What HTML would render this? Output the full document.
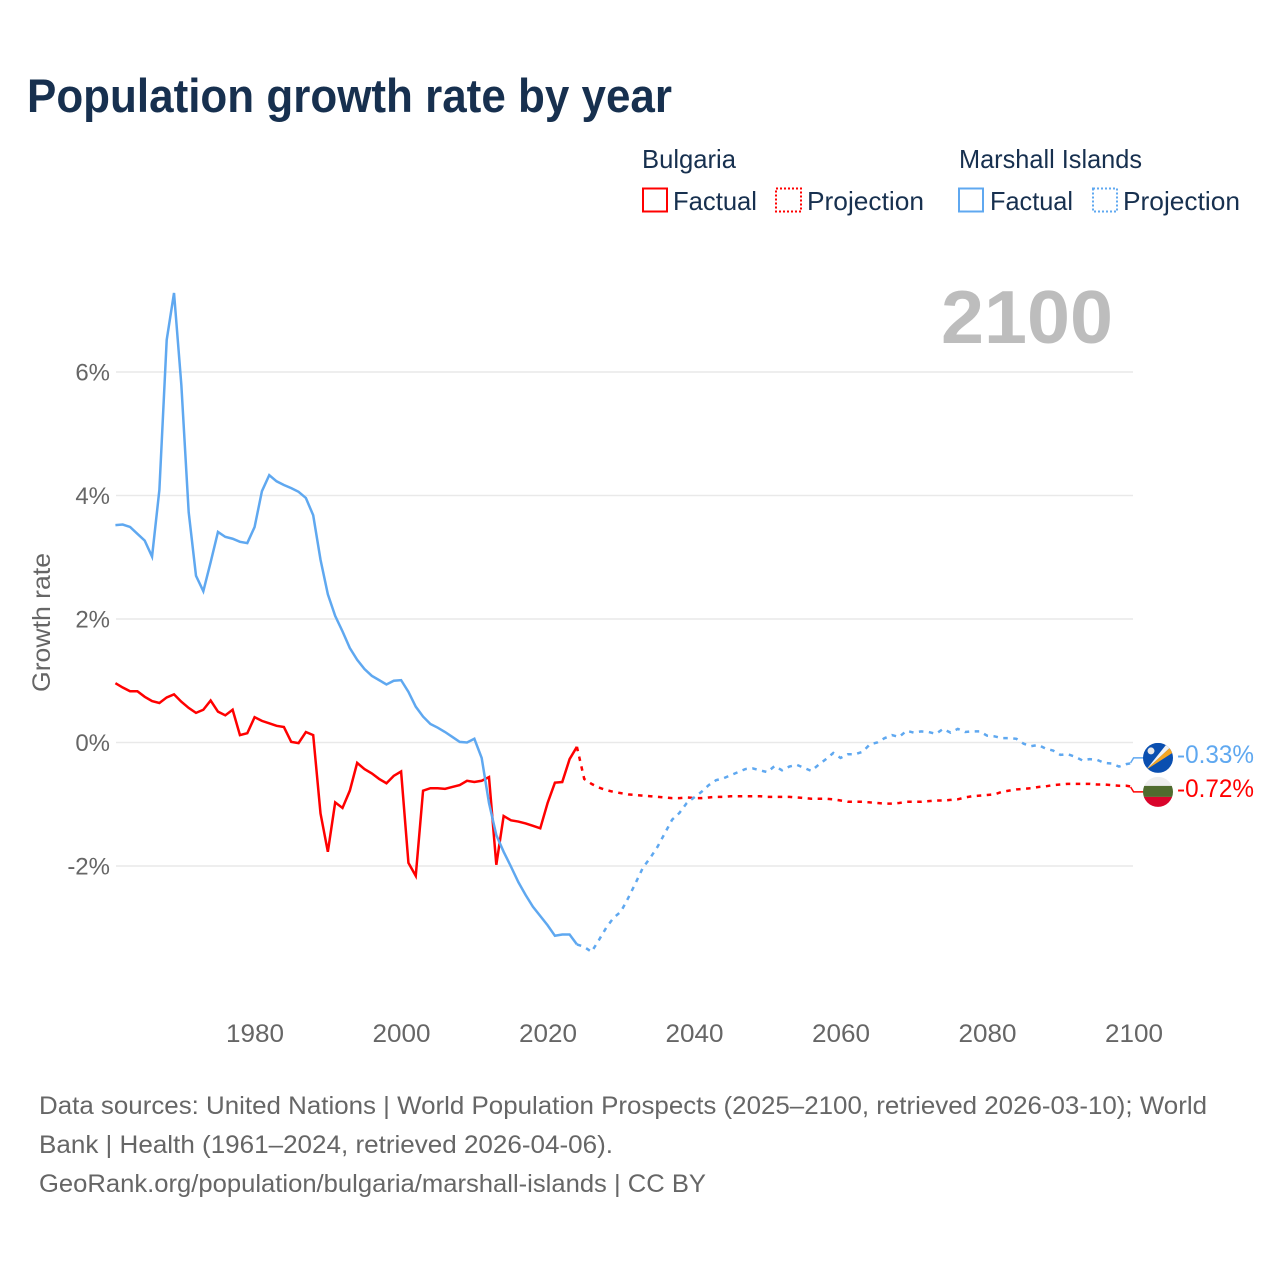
<!DOCTYPE html>
<html lang="en">
<head>
<meta charset="utf-8">
<title>Population growth rate by year</title>
<style>
html,body{margin:0;padding:0;background:#fff;width:1280px;height:1280px;overflow:hidden}
svg{display:block;font-family:"Liberation Sans",sans-serif}
</style>
</head>
<body>
<svg id="chart" xmlns="http://www.w3.org/2000/svg" width="1280" height="1280" viewBox="0 0 1280 1280">
  <defs>
    <clipPath id="flag-mh-clip"><circle id="flag-mh-circle" cx="1158" cy="758" r="15"/></clipPath>
    <clipPath id="flag-bg-clip"><circle id="flag-bg-circle" cx="1158" cy="792" r="15"/></clipPath>
  </defs>
  <rect width="1280" height="1280" fill="#fff"/>
  <text x="27" y="112" font-size="47" font-weight="700" fill="#17304f" textLength="645" lengthAdjust="spacingAndGlyphs">Population growth rate by year</text>

  <g font-size="26" fill="#17304f">
    <text x="642" y="168" textLength="94" lengthAdjust="spacingAndGlyphs">Bulgaria</text>
    <text x="959" y="168" textLength="183" lengthAdjust="spacingAndGlyphs">Marshall Islands</text>
    <rect x="643" y="188.500" width="24" height="23" fill="none" stroke="#ff0000" stroke-width="2"/>
    <text x="673" y="210" textLength="84" lengthAdjust="spacingAndGlyphs">Factual</text>
    <rect x="776" y="188.500" width="25" height="23" fill="none" stroke="#ff0000" stroke-width="2" stroke-dasharray="2 2"/>
    <text x="807" y="210" textLength="117" lengthAdjust="spacingAndGlyphs">Projection</text>
    <rect x="959" y="188.500" width="24" height="23" fill="none" stroke="#5fa8f0" stroke-width="2"/>
    <text x="990" y="210" textLength="83" lengthAdjust="spacingAndGlyphs">Factual</text>
    <rect x="1093" y="188.500" width="24" height="23" fill="none" stroke="#5fa8f0" stroke-width="2" stroke-dasharray="2 2"/>
    <text x="1123" y="210" textLength="117" lengthAdjust="spacingAndGlyphs">Projection</text>
  </g>

  <text x="941" y="343" font-size="75" font-weight="700" fill="#bdbdbd" textLength="172" lengthAdjust="spacingAndGlyphs">2100</text>
  <text transform="translate(50,622.500) rotate(-90)" text-anchor="middle" font-size="25" fill="#666666" textLength="139" lengthAdjust="spacingAndGlyphs">Growth rate</text>

  <g id="grid"></g>
  <g id="y-ticks" font-size="24" fill="#666666" text-anchor="end"></g>
  <g id="x-ticks" font-size="25" fill="#666666" text-anchor="middle"></g>
  <g id="series"></g>

  <g id="flag-mh" clip-path="url(#flag-mh-clip)">
    <rect id="flag-mh-bg" x="1143" y="743" width="30" height="30" fill="#0a4fb0"/>
    <polygon id="flag-mh-white" points="1146,770 1170,740 1173,745" fill="#f2f2f2"/>
    <polygon id="flag-mh-orange" points="1146,770 1173,745 1174,752" fill="#f5a623"/>
    <circle id="flag-mh-star" cx="1151" cy="751" r="3.500" fill="#e8e8e8"/>
  </g>
  <g id="flag-bg" clip-path="url(#flag-bg-clip)">
    <rect id="flag-bg-w" x="1143" y="776" width="30" height="11" fill="#eeeeee"/>
    <rect id="flag-bg-g" x="1143" y="786" width="30" height="11" fill="#4f6b2e"/>
    <rect id="flag-bg-r" x="1143" y="797" width="30" height="11" fill="#d9042b"/>
  </g>
  <text id="label-mh" x="1177" y="763" font-size="25" fill="#5fa8f0" textLength="77" lengthAdjust="spacingAndGlyphs"></text>
  <text id="label-bg" x="1177" y="797" font-size="25" fill="#ff0000" textLength="77" lengthAdjust="spacingAndGlyphs"></text>

  <g font-size="25" fill="#666666">
    <text x="39" y="1114" textLength="1168" lengthAdjust="spacingAndGlyphs">Data sources: United Nations | World Population Prospects (2025–2100, retrieved 2026-03-10); World</text>
    <text x="39" y="1153" textLength="574" lengthAdjust="spacingAndGlyphs">Bank | Health (1961–2024, retrieved 2026-04-06).</text>
    <text x="39" y="1192" textLength="667" lengthAdjust="spacingAndGlyphs">GeoRank.org/population/bulgaria/marshall-islands | CC BY</text>
  </g>
</svg>
<script>
const xTickYears = [1980, 2000, 2020, 2040, 2060, 2080, 2100];
const yTickValues = [6, 4, 2, 0, -2];
const factualStartYear = 1961;
const projectionStartYear = 2024;

// Marshall Islands, 1961-2024
const marshallFactual = [3.52,3.53,3.49,3.38,3.27,3.01,4.09,6.52,7.28,5.79,3.73,2.70,2.45,2.92,3.41,3.33,3.30,3.25,3.23,3.49,4.07,4.33,4.23,4.17,4.12,4.06,3.96,3.68,2.96,2.40,2.05,1.80,1.53,1.34,1.19,1.08,1.01,0.94,1.00,1.01,0.82,0.58,0.42,0.30,0.24,0.17,0.09,0.01,0.00,0.06,-0.25,-0.98,-1.50,-1.77,-2.01,-2.26,-2.47,-2.66,-2.81,-2.96,-3.13,-3.11,-3.11,-3.27];
// Marshall Islands, 2024-2100
const marshallProjection = [-3.27,-3.31,-3.39,-3.20,-3.00,-2.84,-2.74,-2.52,-2.28,-2.03,-1.87,-1.69,-1.47,-1.25,-1.14,-0.98,-0.89,-0.80,-0.69,-0.61,-0.58,-0.53,-0.48,-0.43,-0.42,-0.45,-0.48,-0.38,-0.45,-0.39,-0.36,-0.41,-0.46,-0.36,-0.27,-0.17,-0.25,-0.19,-0.19,-0.15,-0.03,0.00,0.07,0.12,0.09,0.19,0.16,0.18,0.17,0.14,0.22,0.16,0.22,0.17,0.18,0.18,0.11,0.10,0.07,0.07,0.06,-0.02,-0.06,-0.04,-0.10,-0.13,-0.20,-0.19,-0.23,-0.29,-0.27,-0.28,-0.33,-0.34,-0.39,-0.35,-0.33];
// Bulgaria, 1961-2024
const bulgariaFactual = [0.96,0.89,0.83,0.83,0.74,0.67,0.64,0.73,0.78,0.66,0.56,0.48,0.53,0.68,0.50,0.44,0.53,0.12,0.15,0.41,0.35,0.31,0.27,0.25,0.01,-0.01,0.17,0.12,-1.15,-1.77,-0.97,-1.06,-0.78,-0.33,-0.43,-0.50,-0.59,-0.66,-0.54,-0.47,-1.95,-2.16,-0.78,-0.74,-0.74,-0.75,-0.72,-0.69,-0.62,-0.64,-0.62,-0.56,-1.98,-1.19,-1.26,-1.28,-1.31,-1.35,-1.39,-0.98,-0.65,-0.64,-0.27,-0.07];
// Bulgaria, 2024-2100
const bulgariaProjection = [-0.07,-0.59,-0.67,-0.73,-0.77,-0.80,-0.82,-0.84,-0.85,-0.86,-0.87,-0.88,-0.89,-0.90,-0.90,-0.89,-0.90,-0.90,-0.89,-0.88,-0.88,-0.87,-0.87,-0.87,-0.87,-0.87,-0.88,-0.88,-0.88,-0.88,-0.89,-0.90,-0.91,-0.91,-0.91,-0.92,-0.94,-0.96,-0.96,-0.96,-0.97,-0.98,-0.99,-0.99,-0.98,-0.96,-0.96,-0.96,-0.95,-0.94,-0.94,-0.93,-0.92,-0.89,-0.87,-0.86,-0.85,-0.84,-0.80,-0.78,-0.76,-0.75,-0.74,-0.72,-0.71,-0.69,-0.68,-0.67,-0.67,-0.67,-0.67,-0.68,-0.68,-0.69,-0.70,-0.70,-0.72];

const NS = 'http://www.w3.org/2000/svg';
const xScale = year => 254.6 + (year - 1980) * 7.325;
const yScale = value => 742.5 - value * 61.75;
const gridLeft = 116;
const gridRight = 1133;
const blue = '#5fa8f0';
const red = '#ff0000';
const minFlagGap = 34;

function make(tag, attrs, parent) {
  const el = document.createElementNS(NS, tag);
  Object.keys(attrs).forEach(k => el.setAttribute(k, attrs[k]));
  parent.appendChild(el);
  return el;
}

const gridGroup = document.getElementById('grid');
const yTickGroup = document.getElementById('y-ticks');
const xTickGroup = document.getElementById('x-ticks');
const seriesGroup = document.getElementById('series');

yTickValues.forEach(v => {
  const line = make('line', {x1: gridLeft, x2: gridRight, y1: yScale(v), y2: yScale(v), stroke: '#e9e9e9', 'stroke-width': 1.5}, gridGroup);
  
  
  const label = make('text', {x: 110, y: yScale(v) + 8.5}, yTickGroup);
  
  
  label.textContent = v + '%';
});

xTickYears.forEach(year => {
  const label = make('text', {x: xScale(year) + 0.4, y: 1042, textLength: 58, lengthAdjust: 'spacingAndGlyphs'}, xTickGroup);
  
  
  label.textContent = year;
});

function pathFor(values, startYear) {
  return values.map((v, i) => (i ? 'L' : 'M') + xScale(startYear + i).toFixed(2) + ' ' + yScale(v).toFixed(2)).join(' ');
}

function drawSeries(values, startYear, color, dashed, name) {
  const attrs = {d: pathFor(values, startYear), fill: 'none', stroke: color, 'stroke-width': 2.5};
  if (dashed) attrs['stroke-dasharray'] = '4.5 5.5';
  const path = make('path', attrs, seriesGroup);
  
  
}

drawSeries(bulgariaProjection, projectionStartYear, red, true, 'bulgaria-projection-line');
drawSeries(bulgariaFactual, factualStartYear, red, false, 'bulgaria-factual-line');
drawSeries(marshallProjection, projectionStartYear, blue, true, 'marshall-projection-line');
drawSeries(marshallFactual, factualStartYear, blue, false, 'marshall-factual-line');

// End labels: flags are pushed apart when their values sit close together
const mhEnd = marshallProjection[marshallProjection.length - 1];
const bgEnd = bulgariaProjection[bulgariaProjection.length - 1];
let mhFlagY = yScale(mhEnd);
let bgFlagY = yScale(bgEnd);
if (Math.abs(mhFlagY - bgFlagY) < minFlagGap) {
  const mid = (mhFlagY + bgFlagY) / 2;
  const sign = mhFlagY <= bgFlagY ? 1 : -1;
  mhFlagY = mid - sign * minFlagGap / 2;
  bgFlagY = mid + sign * minFlagGap / 2;
}

function drawConnector(value, flagY, color, name) {
  const endX = xScale(2100);
  const pts = [[endX - 3, yScale(value)], [endX, flagY], [endX + 10, flagY]];
  const line = make('polyline', {points: pts.map(p => p.join(',')).join(' '), fill: 'none', stroke: color, 'stroke-width': 1.5}, seriesGroup);
  
  
}
drawConnector(bgEnd, bgFlagY, red, 'bulgaria-end-connector');
drawConnector(mhEnd, mhFlagY, blue, 'marshall-end-connector');

function placeFlag(groupId, circleId, flagY) {
  document.getElementById(circleId).setAttribute('cy', flagY);
  document.getElementById(groupId).querySelectorAll('rect,polygon,circle').forEach(el => {
    el.setAttribute('transform', 'translate(0,' + (flagY - (groupId === 'flag-mh' ? 758 : 792)) + ')');
  });
}
placeFlag('flag-mh', 'flag-mh-circle', mhFlagY);
placeFlag('flag-bg', 'flag-bg-circle', bgFlagY);

const labelMh = document.getElementById('label-mh');
labelMh.setAttribute('y', mhFlagY + 5);
labelMh.textContent = mhEnd.toFixed(2) + '%';
const labelBg = document.getElementById('label-bg');
labelBg.setAttribute('y', bgFlagY + 5);
labelBg.textContent = bgEnd.toFixed(2) + '%';
</script>
</body>
</html>
